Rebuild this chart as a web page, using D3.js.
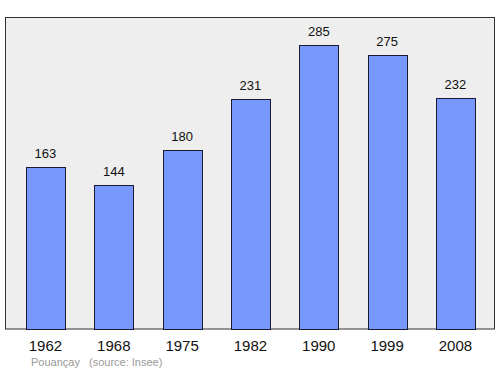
<!DOCTYPE html>
<meta charset="utf-8">
<head>
	<style type="text/css">
		body { margin: 0; background: #fff; }
		text { font-family: "Liberation Sans", Arial, sans-serif; }
	</style>
	<title>Pouançay population</title>
</head>
<script src="https://cdn.jsdelivr.net/npm/d3@7/dist/d3.min.js"></script>
<svg width="500" height="374" id="svg1"></svg>
<script>
	const years = ["1962", "1968", "1975", "1982", "1990", "1999", "2008"];
	const population = [163, 144, 180, 231, 285, 275, 232];
	const townName = "Pouançay";
	const sourceText = "(source: Insee)";

	const svg1 = d3.select('#svg1');
	const data = years.map((y, i) => ({year: y, value: population[i]}));

	// background panel
	svg1.append('rect')
		.attr('x', 5.5)
		.attr('y', 17.5)
		.attr('width', 489)
		.attr('height', 311.5)
		.attr('fill', '#eeeeee')
		.attr('stroke', '#333')
		.attr('stroke-width', 1);

	const xScale = d3.scaleBand()
		.domain(years)
		.range([11.3, 489.6])
		.paddingInner(0.43)
		.paddingOuter(0.215);

	const yScale = d3.scaleLinear()
		.domain([0, 313])
		.range([329, 17]);

	svg1.selectAll('.bar')
		.data(data)
		.enter()
		.append('rect')
		.attr('class', 'bar')
		.attr('x', d => Math.round(xScale(d.year)) + 0.5)
		.attr('y', d => Math.round(yScale(d.value)) + 0.5)
		.attr('width', Math.round(xScale.bandwidth()))
		.attr('height', d => 329 - Math.round(yScale(d.value)))
		.attr('fill', '#7799ff')
		.attr('stroke', '#1a1a2e')
		.attr('stroke-width', 1);

	svg1.selectAll('.val')
		.data(data)
		.enter()
		.append('text')
		.attr('class', 'val')
		.attr('x', d => xScale(d.year) + xScale.bandwidth() / 2)
		.attr('y', d => yScale(d.value) - 9)
		.attr('text-anchor', 'middle')
		.attr('font-size', '13px')
		.attr('fill', '#111')
		.text(d => d.value);

	// year labels
	const xAxis = d3.axisBottom(xScale).tickSize(0).tickPadding(11);
	const xg = svg1.append('g')
		.attr('transform', 'translate(0,329)')
		.call(xAxis);
	xg.select('.domain').remove();
	xg.selectAll('text')
		.attr('font-size', '15px')
		.attr('font-family', '"Liberation Sans", Arial, sans-serif')
		.attr('fill', '#111');

	svg1.append('text')
		.attr('x', 31)
		.attr('y', 366)
		.attr('font-size', '11px')
		.attr('fill', '#999')
		.text(townName);

	svg1.append('text')
		.attr('x', 89)
		.attr('y', 366)
		.attr('font-size', '11px')
		.attr('fill', '#999')
		.text(sourceText);
</script>
